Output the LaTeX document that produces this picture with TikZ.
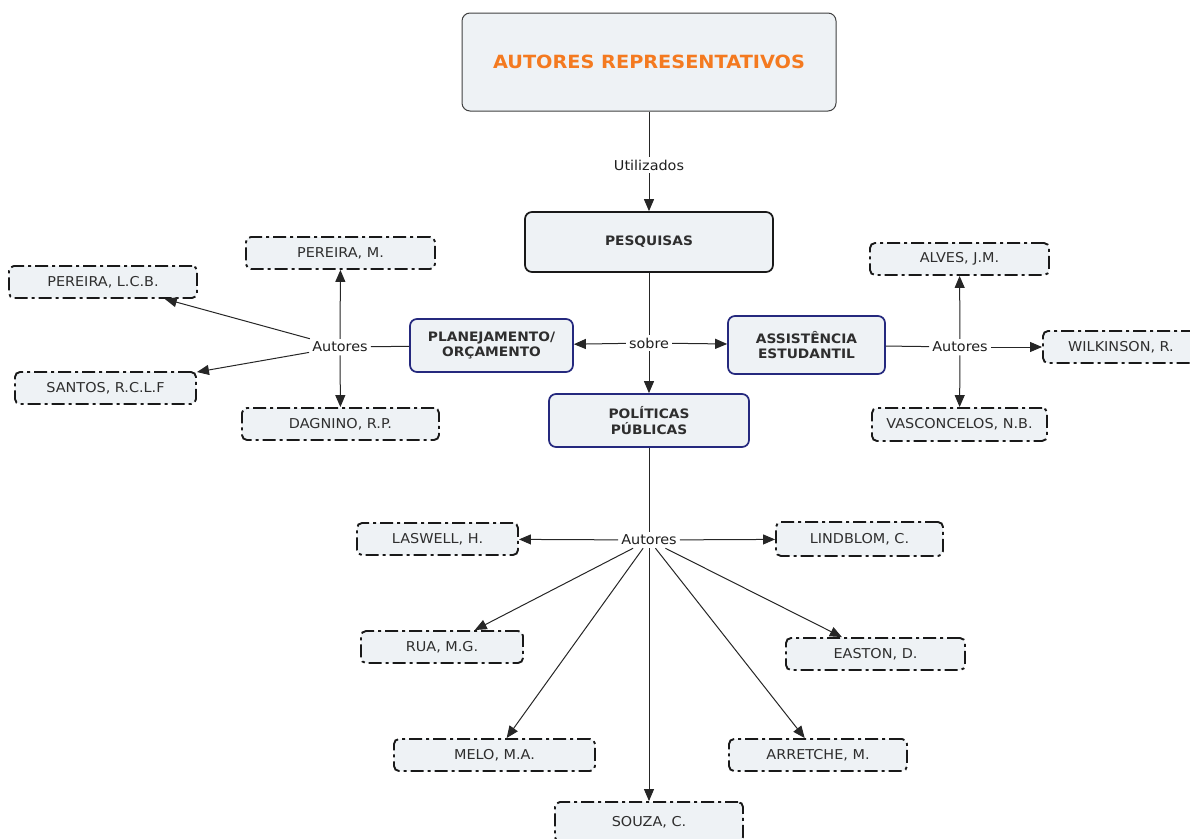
\documentclass[tikz,border=0pt]{standalone}
\usepackage{fontspec}
\setmainfont{DejaVu Sans}[FakeStretch=1.06]
\usetikzlibrary{arrows.meta}
\definecolor{boxfill}{HTML}{EEF2F5}
\definecolor{navyline}{HTML}{25297E}
\definecolor{titleorange}{HTML}{F47A20}
\definecolor{inkgray}{HTML}{2E2E2E}
\tikzset{
  txt/.style={font=\fontsize{13.6}{16}\selectfont, text=inkgray},
  author/.style={txt, draw=black!90, fill=boxfill, line width=1.9pt,
    dash pattern=on 13pt off 4pt on 3pt off 4pt, rounded corners=5pt,
    minimum height=32pt, inner sep=0pt},
  concept/.style={draw=navyline, fill=boxfill, line width=1.7pt, rounded corners=7pt,
    font=\bfseries\fontsize{13}{15.5}\selectfont, text=inkgray, align=center, inner sep=0pt},
  lbl/.style={font=\fontsize{13.6}{16}\selectfont, text=black!88, inner sep=3pt},
  ln/.style={draw=black!85, line width=1pt},
  arr/.style={ln, -{Triangle[length=12pt,width=10pt]}},
}
\begin{document}
\begin{tikzpicture}[x=1pt,y=-1pt]
\useasboundingbox (0,0) rectangle (1190,838);
\clip (0,0) rectangle (1190,838);

% central concepts
\node[draw=black!75, fill=boxfill, line width=1pt, rounded corners=8pt,
      minimum width=374pt, minimum height=98pt,
      font=\bfseries\fontsize{18.2}{21}\selectfont, text=titleorange] (top) at (649,62) {AUTORES REPRESENTATIVOS};
\node[concept, draw=black!90, minimum width=248pt, minimum height=60pt] (pesq) at (649,242) {PESQUISAS};
\node[concept, minimum width=163pt, minimum height=53pt] (plan) at (491.5,345.5) {PLANEJAMENTO/\\ORÇAMENTO};
\node[concept, minimum width=157pt, minimum height=58pt] (assist) at (806.5,345) {ASSISTÊNCIA\\ESTUDANTIL};
\node[concept, minimum width=200pt, minimum height=53pt] (polit) at (649,420.5) {POLÍTICAS\\PÚBLICAS};

% linking phrases
\node[lbl] (util) at (649,165) {Utilizados};
\node[lbl] (sobre) at (649,343) {sobre};
\node[lbl] (autL) at (340,347) {Autores};
\node[lbl] (autR) at (960,347) {Autores};
\node[lbl] (autB) at (649,540) {Autores};

% authors
\node[author, minimum width=189pt] (pm) at (340.5,253) {PEREIRA, M.};
\node[author, minimum width=188pt] (plcb) at (103,282) {PEREIRA, L.C.B.};
\node[author, minimum width=181pt] (santos) at (105.5,388) {SANTOS, R.C.L.F};
\node[author, minimum width=197pt] (dagnino) at (340.5,424) {DAGNINO, R.P.};
\node[author, minimum width=179pt] (alves) at (959.5,259) {ALVES, J.M.};
\node[author, minimum width=156pt] (wilk) at (1121,347) {WILKINSON, R.};
\node[author, minimum width=175pt, minimum height=33pt] (vasc) at (959.5,424.5) {VASCONCELOS, N.B.};
\node[author, minimum width=161pt] (laswell) at (437.5,539) {LASWELL, H.};
\node[author, minimum width=167pt, minimum height=34pt] (lindblom) at (859.5,539) {LINDBLOM, C.};
\node[author, minimum width=162pt] (rua) at (442,647) {RUA, M.G.};
\node[author, minimum width=179pt] (easton) at (875.5,654) {EASTON, D.};
\node[author, minimum width=201pt] (melo) at (494.5,755) {MELO, M.A.};
\node[author, minimum width=178pt] (arretche) at (818,755) {ARRETCHE, M.};
\node[author, minimum width=188pt, minimum height=40pt] (souza) at (649,822) {SOUZA, C.};

% connectors
\draw[ln] (top) -- (util);
\draw[arr] (util) -- (pesq);
\draw[ln] (pesq) -- (sobre);
\draw[arr] (sobre) -- (plan);
\draw[arr] (sobre) -- (assist);
\draw[arr] (sobre) -- (polit);

\draw[ln] (plan) -- (autL);
\draw[arr] (autL) -- (pm);
\draw[arr] (autL) -- (dagnino);
\draw[arr] (autL) -- (plcb);
\draw[arr] (autL) -- (santos);

\draw[ln] (assist) -- (autR);
\draw[arr] (autR) -- (alves);
\draw[arr] (autR) -- (wilk);
\draw[arr] (autR) -- (vasc);

\draw[ln] (polit) -- (autB);
\draw[arr] (autB) -- (laswell);
\draw[arr] (autB) -- (lindblom);
\draw[arr] (autB) -- (rua);
\draw[arr] (autB) -- (easton);
\draw[arr] (autB) -- (melo);
\draw[arr] (autB) -- (arretche);
\draw[arr] (autB) -- (souza);
\end{tikzpicture}
\end{document}
